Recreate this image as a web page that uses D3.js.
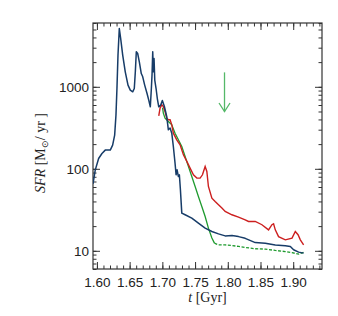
<!DOCTYPE html>
<html><head><meta charset="utf-8">
<script src="https://cdn.jsdelivr.net/npm/d3@7"></script>
<style>body{margin:0;background:#fff}</style>
</head><body><svg id="c" width="338" height="316"></svg>
<script>
const blueTime = [1.594,1.5974,1.6026,1.6077,1.6127,1.6168,1.6204,1.6240,1.6271,1.6291,1.6306,1.6322,1.6342,1.6363,1.6394,1.6433,1.6475,1.6510,1.6547,1.6571,1.6587,1.6602,1.6623,1.6648,1.6678,1.6700,1.6730,1.6766,1.6792,1.6816,1.6832,1.6842,1.6853,1.6862,1.6873,1.6884,1.6904,1.6923,1.6945,1.6975,1.7000,1.7031,1.7067,1.7092,1.7118,1.7144,1.7168,1.7194,1.7210,1.7225,1.7245,1.7260,1.7276,1.7297,1.7348,1.7450,1.7551,1.7654,1.7757,1.7858,1.7960,1.8063,1.8164,1.8266,1.8420,1.8573,1.8726,1.8879,1.8956,1.9006,1.9083,1.9159];
const blueSFR = [65.6,96.4,133.6,153.6,169,169,169,194.5,257.6,451.6,953,2436,5140,3881,2436,1524,1049,912,869,953,1524,2672,2548,2018,1453,1324,1049,828,688,570,953,1389,2672,1524,2213,1207,953,720,570,598,681,575,434,299,314,272,187,117,84.5,97.2,80.5,84.5,55.5,28.8,27.5,25.0,21.8,18.9,17.2,16.1,15.2,15.4,14.9,14.2,12.6,12.4,11.8,11.5,11.3,10.3,9.64,9.37];
const redTime = [1.6945,1.6965,1.6991,1.7015,1.7041,1.7067,1.7092,1.7118,1.7144,1.7168,1.7220,1.7271,1.7322,1.7374,1.7424,1.7475,1.7527,1.7577,1.7613,1.7654,1.7680,1.7704,1.7757,1.7807,1.7858,1.7910,1.7960,1.8063,1.8164,1.8266,1.8317,1.8420,1.8522,1.8623,1.8675,1.8700,1.8726,1.8776,1.8879,1.8982,1.9032,1.9074,1.9109,1.9159];
const redSFR = [443,550,603,575,500,415,396,396,344,272,226,196,148,123,102,84.5,77,77,84.5,106.7,92.7,60.9,43.9,39.9,36.4,33.2,30.2,27.5,25.8,23.9,22.8,22.8,20.8,18.0,20.8,21.4,18.0,14.9,13.6,14.3,17.2,15.7,13.6,11.8];
const greenTime = [1.7003,1.7015,1.7041,1.7092,1.7144,1.7194,1.7245,1.7297,1.7348,1.7398,1.7450,1.7501,1.7551,1.7603,1.7654,1.7704,1.7757,1.7796,1.7858,1.7960,1.8063,1.8164,1.8266,1.8420,1.8573,1.8726,1.8879,1.8982,1.9083,1.9159];
const greenSFR = [555,478,415,378,344,272,226,187,141,107,80.5,60.9,45.9,34.7,26.2,18.9,14.3,12.4,11.8,11.8,11.6,11.3,11.0,10.6,10.5,10.1,9.8,9.5,9.1,9.6];
const greenSolidEnd = 1.7796;
const arrowTime = 1.795, arrowTopSFR = 1500, arrowTipSFR = 500;
const xMajorTicks = [1.60,1.65,1.70,1.75,1.80,1.85,1.90];
const yMajorTicks = [10,100,1000];

const svg = d3.select('#c');
const L=93,R=322,T=23,B=269;
const x = d3.scaleLinear().domain([1.594,1.944]).range([L,R]);
const y = d3.scaleLog().domain([6,6000]).range([B,T]);
const axisCol = '#333';

const xMinor = d3.range(160,195).map(d=>d/100).filter(d=>d>=1.594&&d<=1.944);
const yMinor = [];
[1,10,100,1000].forEach(dec=>{for(let k=1;k<10;k++){const v=dec*k; if(v>=6&&v<=6000) yMinor.push(v);}});

const g = svg.append('g');
// bottom
g.append('g').attr('transform',`translate(0,${B})`).call(d3.axisBottom(x).tickValues(xMinor).tickSize(-3.5).tickFormat('')).call(s=>s.select('.domain').remove());
g.append('g').attr('transform',`translate(0,${B})`).call(d3.axisBottom(x).tickValues(xMajorTicks).tickSize(-7).tickPadding(8).tickFormat(d3.format('.2f'))).call(s=>s.select('.domain').remove());
// top
g.append('g').attr('transform',`translate(0,${T})`).call(d3.axisTop(x).tickValues(xMinor).tickSize(-3.5).tickFormat('')).call(s=>s.select('.domain').remove());
g.append('g').attr('transform',`translate(0,${T})`).call(d3.axisTop(x).tickValues(xMajorTicks).tickSize(-7).tickFormat('')).call(s=>s.select('.domain').remove());
// left
g.append('g').attr('transform',`translate(${L},0)`).call(d3.axisLeft(y).tickValues(yMinor).tickSize(-3.5).tickFormat('')).call(s=>s.select('.domain').remove());
g.append('g').attr('transform',`translate(${L},0)`).call(d3.axisLeft(y).tickValues(yMajorTicks).tickSize(-7).tickPadding(4).tickFormat(d3.format('d'))).call(s=>s.select('.domain').remove());
// right
g.append('g').attr('transform',`translate(${R},0)`).call(d3.axisRight(y).tickValues(yMinor).tickSize(-3.5).tickFormat('')).call(s=>s.select('.domain').remove());
g.append('g').attr('transform',`translate(${R},0)`).call(d3.axisRight(y).tickValues(yMajorTicks).tickSize(-7).tickFormat('')).call(s=>s.select('.domain').remove());

g.selectAll('.tick line').attr('stroke',axisCol).attr('stroke-width',1);
g.selectAll('.tick text').attr('fill','#222').style('font-family','Liberation Sans, Arial, sans-serif').style('font-size','13.5px');

svg.append('rect').attr('x',L).attr('y',T).attr('width',R-L).attr('height',B-T).attr('fill','none').attr('stroke',axisCol).attr('stroke-width',1.2);

const line = d3.line().x(d=>x(d[0])).y(d=>y(d[1]));
const zip=(a,b)=>a.map((t,i)=>[t,b[i]]);
const green = zip(greenTime,greenSFR);
svg.append('clipPath').attr('id','cp').append('rect').attr('x',L).attr('y',T).attr('width',R-L).attr('height',B-T);
const plot = svg.append('g').attr('clip-path','url(#cp)');
plot.append('path').datum(green.filter(d=>d[0]<=greenSolidEnd)).attr('d',line).attr('fill','none').attr('stroke','#1e9a2e').attr('stroke-width',1.3);
plot.append('path').datum(green.filter(d=>d[0]>=greenSolidEnd)).attr('d',line).attr('fill','none').attr('stroke','#1e9a2e').attr('stroke-width',1.3).attr('stroke-dasharray','3,1.6');
plot.append('path').datum(zip(redTime,redSFR)).attr('d',line).attr('fill','none').attr('stroke','#cc1f1f').attr('stroke-width',1.4);
plot.append('path').datum(zip(blueTime,blueSFR)).attr('d',line).attr('fill','none').attr('stroke','#173c68').attr('stroke-width',1.5).attr('stroke-linejoin','round');

// arrow
const ax = x(arrowTime), ayTop = y(arrowTopSFR), ayTip = y(arrowTipSFR);
const arr = svg.append('g').attr('stroke','#55b868').attr('stroke-width',1.3).attr('fill','none');
arr.append('line').attr('x1',ax).attr('x2',ax).attr('y1',ayTop).attr('y2',ayTip);
arr.append('path').attr('d',`M${ax-5.5},${ayTip-8.5}L${ax},${ayTip}L${ax+5.5},${ayTip-8.5}`);

// titles
const xt = svg.append('text').attr('x',(L+R)/2).attr('y',302).attr('text-anchor','middle').attr('fill','#222').style('font-family','Liberation Serif, Times New Roman, serif').style('font-size','14px');
xt.append('tspan').style('font-style','italic').text('t');
xt.append('tspan').text(' [Gyr]');
const yt = svg.append('text').attr('transform','translate(45,153) rotate(-90)').attr('text-anchor','middle').attr('fill','#222').style('font-family','Liberation Serif, Times New Roman, serif').style('font-size','14px');
yt.append('tspan').style('font-style','italic').text('SFR');
yt.append('tspan').text('  [M');
yt.append('tspan').attr('dy',3).style('font-size','9px').text('⊙');
yt.append('tspan').attr('dy',-3).text('/ yr ]');
</script></body></html>
